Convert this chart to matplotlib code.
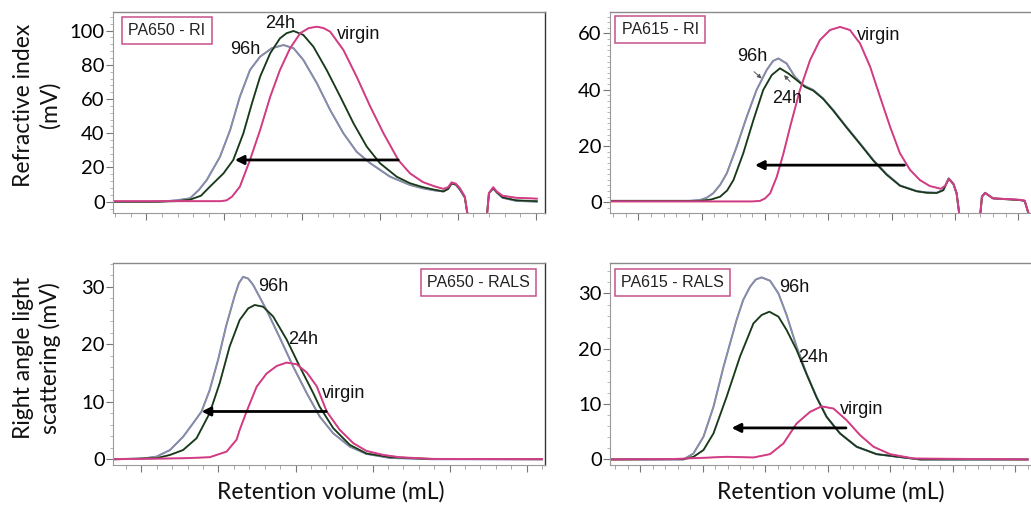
import numpy as np
import matplotlib.pyplot as plt
from matplotlib.ticker import MultipleLocator, NullFormatter

# ---- PA650 - RI (top left) ----
tl_virgin_x = [11.14, 13.5, 13.9, 14.06, 14.2, 14.4, 14.66, 14.92, 15.18, 15.43, 15.69, 15.95, 16.17, 16.38,
               16.55, 16.72, 17.06, 17.4, 17.75, 18.09, 18.47, 18.77, 19.1, 19.4, 19.63, 19.75, 19.84, 19.95,
               20.05, 20.18, 20.3, 20.72, 20.8, 20.91, 21.0, 21.15, 21.5, 22.03]
tl_virgin_y = [0.3, 0.3, 0.3, 0.8, 3, 8.8, 24.4, 41.9, 61.4, 77, 89.7, 98.5, 101.5, 102.3,
               101.5, 99.4, 88.7, 73.1, 55.6, 40, 24.4, 16.6, 11.5, 9, 7.5, 8.5, 11.3, 10.5,
               8, 3, -15, -15, 5, 8.5, 6, 3.5, 2.3, 1.8]
tl_24h_x = [11.14, 12.3, 12.8, 13.12, 13.4, 13.63, 13.98, 14.23, 14.49, 14.71, 14.92, 15.18, 15.43, 15.6,
            15.78, 16.03, 16.29, 16.63, 16.98, 17.32, 17.66, 18.0, 18.43, 18.77, 19.1, 19.4, 19.63, 19.75,
            19.84, 19.95, 20.05, 20.18, 20.3, 20.72, 20.8, 20.91, 21.0, 21.15, 21.5, 22.03]
tl_24h_y = [0, 0, 0.4, 1.2, 3.5, 8.8, 16.6, 24.4, 40, 57.5, 73.1, 86.8, 95.5, 98.5,
            99.8, 97.5, 90.6, 77, 61.4, 45.8, 32.2, 22.5, 14.6, 10.8, 8.5, 7, 6, 7.5,
            10.7, 10, 7.5, 2.5, -15, -15, 5, 7.8, 5.5, 2.5, 0.8, 0.3]
tl_96h_x = [11.14, 12.0, 12.5, 12.8, 13.12, 13.35, 13.55, 13.89, 14.15, 14.4, 14.66, 14.92, 15.22, 15.52,
            15.78, 16.03, 16.38, 16.72, 17.06, 17.4, 17.75, 18.26, 18.77, 19.1, 19.4, 19.63, 19.75, 19.84,
            19.95, 20.05, 20.18, 20.3, 20.72, 20.8, 20.91, 21.0, 21.15, 21.5, 22.03]
tl_96h_y = [0, 0, 0.3, 0.9, 2.0, 7, 12.7, 26.3, 41.9, 61.4, 77, 84.8, 89.7, 91.6,
            89.7, 82.9, 69.2, 53.6, 40, 29.2, 22.5, 14.6, 9.8, 7.8, 6.6, 6, 7.5, 10.7,
            10, 7, 2.5, -15, -15, 5, 7.8, 5.5, 2.3, 0.5, 0]

# ---- PA615 - RI (top right) ----
tr_virgin_x = [11.1, 15.0, 15.6, 15.84, 16.0, 16.16, 16.37, 16.58, 16.79, 17.1, 17.42, 17.73, 18.05, 18.37,
               18.68, 19.0, 19.32, 19.63, 19.95, 20.26, 20.58, 20.89, 21.2, 21.55, 21.7, 21.8, 21.95, 22.05,
               22.2, 22.75, 22.85, 22.95, 23.2, 24.05, 24.2, 24.35]
tr_virgin_y = [0.3, 0.3, 0.3, 0.5, 1.4, 3.2, 9.1, 17.4, 26.8, 39.9, 50.5, 57.6, 61.2, 62.3,
               61.2, 56.4, 48.1, 37.5, 26.8, 17.4, 11.5, 7.9, 5.8, 4.8, 6, 8.3, 6.5, 3.2,
               -10, -10, 2, 3.3, 1.4, 0.9, 0.6, -5]
tr_24h_x = [11.1, 13.94, 14.3, 14.58, 14.8, 15.0, 15.31, 15.63, 15.94, 16.21, 16.47, 16.73, 17.0, 17.26,
            17.52, 17.83, 18.15, 18.57, 19.0, 19.42, 19.84, 20.26, 20.79, 21.1, 21.42, 21.63, 21.8, 21.95,
            22.05, 22.2, 22.75, 22.85, 22.95, 23.2, 24.05, 24.2, 24.35]
tr_24h_y = [0.5, 0.5, 1.0, 2, 4.2, 7.9, 17.4, 29.2, 39.9, 45.2, 47.6, 45.8, 43.4, 41,
            39.7, 36.8, 32.6, 26.6, 20.7, 14.8, 9.8, 5.9, 3.9, 3.4, 3.3, 4.3, 8.4, 6.5,
            3.2, -10, -10, 2, 3.3, 1.4, 0.8, 0.5, -5]
tr_96h_x = [11.1, 13.6, 13.94, 14.15, 14.36, 14.58, 14.79, 15.1, 15.42, 15.73, 16.05, 16.25, 16.42, 16.68,
            16.94, 17.21, 17.52, 17.83, 18.15, 18.57, 19.0, 19.42, 19.84, 20.26, 20.79, 21.1, 21.42, 21.63,
            21.8, 21.95, 22.05, 22.2, 22.75, 22.85, 22.95, 23.2, 24.05, 24.2, 24.35]
tr_96h_y = [0.5, 0.5, 0.8, 1.6, 3.2, 6.2, 10.3, 19.7, 30.4, 39.9, 47, 50.2, 51.1, 49.3,
            44.6, 41.6, 39.9, 36.9, 32.8, 26.8, 20.9, 15.0, 10, 6, 4, 3.5, 3.4, 4.4,
            8.5, 6.5, 3.2, -10, -10, 2, 3.4, 1.4, 0.8, 0.5, -5]

# ---- PA650 - RALS (bottom left) ----
bl_virgin_x = [11.26, 13.08, 13.77, 14.21, 14.47, 14.55, 14.73, 14.99, 15.25, 15.51, 15.77, 16.03, 16.29,
               16.55, 16.81, 17.15, 17.5, 17.84, 18.28, 18.71, 19.58, 22.4]
bl_virgin_y = [0, 0.17, 0.35, 1.33, 3.4, 5.1, 8.3, 12.6, 14.9, 16.2, 16.8, 16.5, 15.1,
               12.7, 8.3, 5.1, 2.8, 1.45, 0.75, 0.35, 0.06, 0]
bl_24h_x = [11.26, 12.4, 12.74, 13.08, 13.43, 13.77, 14.03, 14.29, 14.55, 14.77, 14.94, 15.16, 15.42, 15.77,
            16.11, 16.46, 16.63, 16.98, 17.41, 17.84, 18.45, 19.5, 22.4]
bl_24h_y = [0, 0.2, 0.75, 1.6, 3.65, 8.0, 13.2, 19.6, 24.2, 26.2, 26.8, 26.5, 24.8, 20.8,
            16.1, 11.5, 9.1, 5.4, 2.5, 1.0, 0.35, 0.05, 0]
bl_96h_x = [11.26, 12.0, 12.39, 12.74, 13.08, 13.34, 13.56, 13.77, 13.99, 14.2, 14.42, 14.53, 14.64, 14.77,
            14.9, 15.25, 15.6, 15.94, 16.29, 16.63, 16.98, 17.41, 17.84, 18.45, 19.58, 22.4]
bl_96h_y = [0, 0.1, 0.46, 1.6, 3.9, 6.25, 8.3, 12.0, 17.3, 23.2, 28.4, 30.6, 31.7, 31.4,
            30.3, 25.9, 21.0, 16.1, 11.5, 7.4, 4.5, 2.2, 0.93, 0.23, 0, 0]

# ---- PA615 - RALS (bottom right) ----
br_virgin_x = [11.04, 12.96, 14.03, 14.77, 15.63, 16.16, 16.59, 17.01, 17.44, 17.81, 18.19, 18.61, 19.04,
               19.47, 20.0, 20.75, 24.4]
br_virgin_y = [0, 0.06, 0.3, 0.48, 0.36, 0.96, 2.9, 6.5, 8.6, 9.6, 9.2, 7.1, 4.4,
               2.3, 0.96, 0.18, 0]
br_24h_x = [11.04, 13.4, 13.71, 14.03, 14.35, 14.77, 15.2, 15.63, 15.89, 16.14, 16.43, 16.69, 17.01, 17.33,
            17.65, 17.97, 18.4, 18.93, 19.57, 20.43, 20.96, 24.4]
br_24h_y = [0, 0.05, 0.48, 1.7, 4.7, 11.3, 18.6, 24.6, 26.1, 26.7, 25.8, 23.4, 19.8, 15.4,
            11.2, 7.7, 4.7, 2.3, 0.96, 0.36, 0, 0]
br_96h_x = [11.04, 13.39, 13.71, 14.03, 14.35, 14.67, 15.09, 15.3, 15.52, 15.7, 15.89, 16.16, 16.43, 16.69,
            17.01, 17.33, 17.65, 17.97, 18.4, 18.93, 19.57, 20.43, 20.96, 24.4]
br_96h_y = [0, 0, 1.08, 4.1, 9.5, 16.7, 25.2, 28.8, 31.2, 32.5, 32.9, 32.3, 30.0, 26.1,
            20.4, 15.5, 11.3, 7.7, 4.7, 2.3, 0.96, 0.36, 0, 0]

panel_titles = ["PA650 - RI", "PA615 - RI", "PA650 - RALS", "PA615 - RALS"]

# colour pairs (underlay, overlay) mimicking the duplicate traces
c_virgin = ("#e8506e", "#c83a95")
c_24h = ("#3d7d3d", "#1f2b22")
c_96h = ("#7272d6", "#8d958a")

W, H = 1031, 507
fig = plt.figure(figsize=(W / 100, H / 100), dpi=100)


def px_axes(left, top, right, bottom):
    return fig.add_axes([left / W, 1 - bottom / H, (right - left) / W, (bottom - top) / H])


ax_tl = px_axes(113, 12, 545, 213)
ax_tr = px_axes(610, 12, 1031, 213)
ax_bl = px_axes(113, 263, 545, 465)
ax_br = px_axes(610, 263, 1031, 465)

tick_font = "Lato"
curve_font = "Liberation Sans"


def trace(ax, x, y, cols):
    ax.plot(x, y, color=cols[0], lw=1.4, solid_joinstyle="round")
    ax.plot(x, y, color=cols[1], lw=0.9, solid_joinstyle="round")


def style(ax, xlim, ylim, ymajor, yminor, right_spine=True):
    ax.set_xlim(*xlim)
    ax.set_ylim(*ylim)
    ax.xaxis.set_major_locator(MultipleLocator(2))
    ax.xaxis.set_minor_locator(MultipleLocator(0.4))
    ax.xaxis.set_major_formatter(NullFormatter())
    ax.yaxis.set_major_locator(MultipleLocator(ymajor))
    ax.yaxis.set_minor_locator(MultipleLocator(yminor))
    ax.tick_params(axis="x", which="major", length=5, color="#777777", width=0.8)
    ax.tick_params(axis="x", which="minor", length=3, color="#999999", width=0.6)
    ax.tick_params(axis="y", which="major", length=5, color="#777777", width=0.8,
                   labelsize=14.5, pad=1)
    ax.tick_params(axis="y", which="minor", length=2.5, color="#999999", width=0.5)
    for lab in ax.get_yticklabels():
        lab.set_fontfamily(tick_font)
    for s in ["left", "bottom"]:
        ax.spines[s].set_color("#9a9a9a")
        ax.spines[s].set_linewidth(0.8)
    ax.spines["top"].set_color("#8a8a8a")
    ax.spines["top"].set_linewidth(1.0)
    if right_spine:
        ax.spines["right"].set_color("#333333")
        ax.spines["right"].set_linewidth(1.0)
    else:
        ax.spines["right"].set_visible(False)


def box_label(ax, text, fx, fy):
    ax.text(fx, fy, text, transform=ax.transAxes, ha="center", va="center",
            fontsize=11.5, family=curve_font, color="#222222",
            bbox=dict(boxstyle="square,pad=0.38", fc="white", ec="#c8508a", lw=1.1))


def shift_arrow(ax, x0, x1, y):
    ax.annotate("", xy=(x1, y), xytext=(x0, y),
                arrowprops=dict(arrowstyle="-|>", color="black", lw=2.0,
                                mutation_scale=13, shrinkA=0, shrinkB=0))


def lab(ax, x, y, s):
    ax.text(x, y, s, ha="center", va="center", fontsize=13, family=curve_font, color="#111111")


# top left
trace(ax_tl, tl_96h_x, tl_96h_y, c_96h)
trace(ax_tl, tl_24h_x, tl_24h_y, c_24h)
trace(ax_tl, tl_virgin_x, tl_virgin_y, c_virgin)
style(ax_tl, (11.14, 22.24), (-6.6, 110.9), 20, 4)
box_label(ax_tl, panel_titles[0], 0.125, 0.91)
shift_arrow(ax_tl, 18.47, 14.27, 24.4)
lab(ax_tl, 15.43, 104.3, "24h")
lab(ax_tl, 14.53, 88.7, "96h")
lab(ax_tl, 17.45, 97.5, "virgin")

# top right
trace(ax_tr, tr_96h_x, tr_96h_y, c_96h)
trace(ax_tr, tr_24h_x, tr_24h_y, c_24h)
trace(ax_tr, tr_virgin_x, tr_virgin_y, c_virgin)
style(ax_tr, (11.1, 24.4), (-3.8, 67.6), 20, 2, right_spine=False)
box_label(ax_tr, panel_titles[1], 0.119, 0.915)
shift_arrow(ax_tr, 20.4, 15.68, 13.2)
lab(ax_tr, 19.58, 59.4, "virgin")
lab(ax_tr, 15.58, 51.9, "96h")
lab(ax_tr, 16.68, 36.9, "24h")
ax_tr.annotate("", xy=(15.89, 44.0), xytext=(15.65, 46.4),
               arrowprops=dict(arrowstyle="-|>", color="#555555", lw=0.7, mutation_scale=6,
                               shrinkA=0, shrinkB=0))
ax_tr.annotate("", xy=(16.6, 45.2), xytext=(16.79, 42.8),
               arrowprops=dict(arrowstyle="-|>", color="#555555", lw=0.7, mutation_scale=6,
                               shrinkA=0, shrinkB=0))

# bottom left
trace(ax_bl, bl_96h_x, bl_96h_y, c_96h)
trace(ax_bl, bl_24h_x, bl_24h_y, c_24h)
trace(ax_bl, bl_virgin_x, bl_virgin_y, c_virgin)
style(ax_bl, (11.26, 22.48), (-1.0, 34.1), 10, 2)
box_label(ax_bl, panel_titles[2], 0.845, 0.903)
shift_arrow(ax_bl, 16.8, 13.56, 8.3)
lab(ax_bl, 15.42, 30.0, "96h")
lab(ax_bl, 16.2, 20.8, "24h")
lab(ax_bl, 17.24, 11.35, "virgin")

# bottom right
trace(ax_br, br_96h_x, br_96h_y, c_96h)
trace(ax_br, br_24h_x, br_24h_y, c_24h)
trace(ax_br, br_virgin_x, br_virgin_y, c_virgin)
style(ax_br, (11.04, 24.51), (-1.0, 35.5), 10, 2, right_spine=False)
box_label(ax_br, panel_titles[3], 0.148, 0.903)
shift_arrow(ax_br, 18.59, 14.93, 5.7)
lab(ax_br, 16.93, 31.1, "96h")
lab(ax_br, 17.55, 18.4, "24h")
lab(ax_br, 19.1, 9.0, "virgin")

# axis titles
fig.text(37 / W, 1 - 105 / H, "Refractive index\n(mV)", rotation=90, ha="center", va="center",
         multialignment="center", fontsize=16.5, family=tick_font, linespacing=1.3, color="#111111")
fig.text(37 / W, 1 - 358 / H, "Right angle light\nscattering (mV)", rotation=90, ha="center",
         va="center", multialignment="center", fontsize=16.5, family=tick_font, linespacing=1.3,
         color="#111111")
fig.text(331 / W, 1 - 492 / H, "Retention volume (mL)", ha="center", va="center",
         fontsize=16.5, family=tick_font, color="#111111")
fig.text(831 / W, 1 - 492 / H, "Retention volume (mL)", ha="center", va="center",
         fontsize=16.5, family=tick_font, color="#111111")

fig.savefig("out.png", dpi=100)
